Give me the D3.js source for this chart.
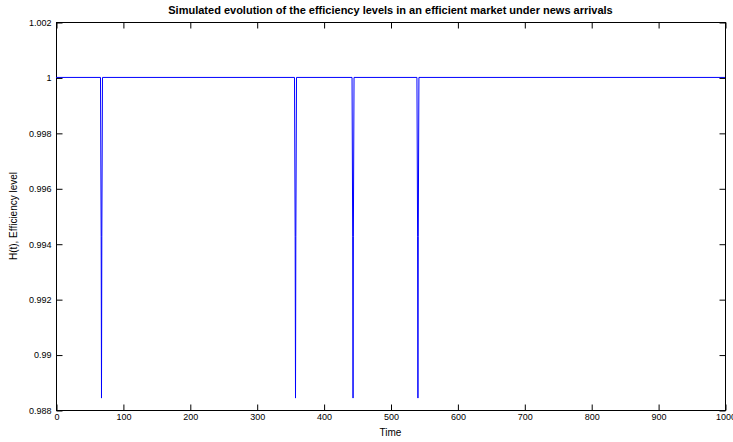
<!DOCTYPE html>
<html>
<head>
<meta charset="utf-8">
<script src="https://cdn.jsdelivr.net/npm/d3@7"></script>
<style>
  body { margin: 0; background: #fff; }
  text { font-family: "Liberation Sans", Arial, sans-serif; }
</style>
</head>
<body>
<svg id="chart"></svg>
<script>
// simulated efficiency levels H(t)
const time  = [0, 66.5, 67.5, 68, 68.5, 69.5,
               356.5, 357.5, 358, 358.5, 359.5,
               442.5, 443.5, 444, 444.5, 445.5,
               539.5, 540.5, 541, 541.5, 542.5, 1000]
const level = [1, 1, 0.99425, 0.98843, 0.99425, 1,
               1, 0.99425, 0.98843, 0.99425, 1,
               1, 0.99425, 0.98843, 0.99425, 1,
               1, 0.99425, 0.98843, 0.99425, 1, 1]

const xTicks = [0, 100, 200, 300, 400, 500, 600, 700, 800, 900, 1000]
const yTicks = [0.988, 0.99, 0.992, 0.994, 0.996, 0.998, 1, 1.002]

const width = 733
const height = 442
const margin = { top: 22, right: 8, bottom: 32, left: 56 }

const svg = d3.select("#chart")
    .attr("width", width)
    .attr("height", height)

const x = d3.scaleLinear().domain([0, 1000]).range([margin.left, width - margin.right])
const y = d3.scaleLinear().domain([0.988, 1.002]).range([height - margin.bottom, margin.top])

const tickLen = 6

// axes box
svg.append("rect")
    .attr("x", x(0) + 0.5)
    .attr("y", y(1.002) + 0.5)
    .attr("width", x(1000) - x(0))
    .attr("height", y(0.988) - y(1.002))
    .attr("fill", "none")
    .attr("stroke", "#000")
    .attr("stroke-width", 1)

// series
const line = d3.line()
    .x(d => x(d[0]))
    .y(d => y(d[1]))

svg.append("path")
    .datum(d3.zip(time, level))
    .attr("d", line)
    .attr("fill", "none")
    .attr("stroke", "#0000ff")
    .attr("stroke-width", 1)

// bottom + top ticks
const axBottom = svg.append("g")
    .attr("transform", `translate(0.5,${y(0.988) + 0.5})`)
    .call(d3.axisBottom(x).tickValues(xTicks).tickSizeInner(-tickLen).tickSizeOuter(0).tickPadding(5).tickFormat(d3.format("d")))
const axTop = svg.append("g")
    .attr("transform", `translate(0.5,${y(1.002) + 0.5})`)
    .call(d3.axisTop(x).tickValues(xTicks).tickSizeInner(-tickLen).tickSizeOuter(0).tickFormat(""))

// left + right ticks
const axLeft = svg.append("g")
    .attr("transform", `translate(${x(0) + 0.5},0.5)`)
    .call(d3.axisLeft(y).tickValues(yTicks).tickSizeInner(-tickLen).tickSizeOuter(0).tickPadding(5).tickFormat(d => String(+d.toFixed(3))))
const axRight = svg.append("g")
    .attr("transform", `translate(${x(1000) + 0.5},0.5)`)
    .call(d3.axisRight(y).tickValues(yTicks).tickSizeInner(-tickLen).tickSizeOuter(0).tickFormat(""))

for (const g of [axBottom, axTop, axLeft, axRight]) {
    g.select(".domain").remove()
    g.selectAll("line").attr("stroke", "#000")
    g.selectAll("text")
        .attr("fill", "#000")
        .style("font-size", "9px")
        .style("font-family", "\"Liberation Sans\", Arial, sans-serif")
}
axBottom.selectAll("text").attr("dy", "0.55em")
axLeft.selectAll("text").attr("dy", "0.32em")

// labels
svg.append("text")
    .attr("x", (x(0) + x(1000)) / 2)
    .attr("y", 14)
    .attr("text-anchor", "middle")
    .style("font-size", "11px")
    .style("font-weight", "bold")
    .text("Simulated evolution of the efficiency levels in an efficient market under news arrivals")

svg.append("text")
    .attr("x", (x(0) + x(1000)) / 2)
    .attr("y", 436)
    .attr("text-anchor", "middle")
    .style("font-size", "10px")
    .text("Time")

svg.append("text")
    .attr("transform", `translate(17,${(y(0.988) + y(1.002)) / 2}) rotate(-90)`)
    .attr("text-anchor", "middle")
    .style("font-size", "10px")
    .text("H(t), Efficiency level")
</script>
</body>
</html>
